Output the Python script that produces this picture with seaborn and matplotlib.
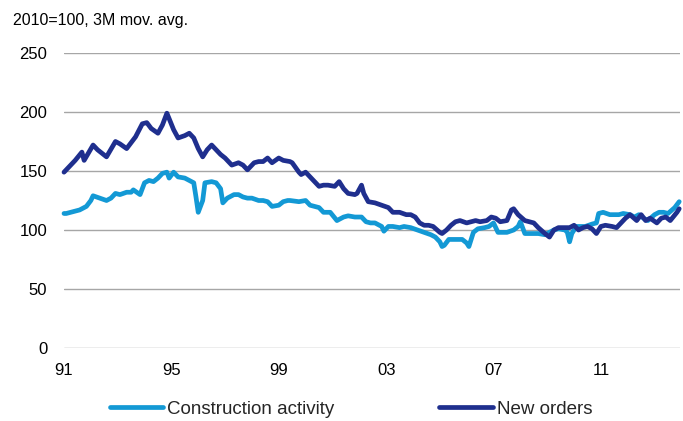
import matplotlib
matplotlib.use("Agg")
import matplotlib.pyplot as plt
from matplotlib.lines import Line2D
import numpy as np
import pandas as pd
import seaborn as sns

# Months since Jan 1991 and index levels (2010=100, 3M moving average)
activity_month = [0, 1, 3, 7, 10, 12, 13, 16, 19, 21, 23, 25, 28, 30, 31, 34, 36, 38, 40, 42,
                  44, 46, 47, 49, 51, 54, 56, 58, 59, 60, 62, 63, 66, 68, 70, 71, 73, 76, 78, 80,
                  82, 84, 87, 89, 91, 93, 96, 98, 100, 101, 105, 108, 110, 114, 116, 119, 122, 125, 127, 130,
                  133, 135, 137, 139, 142, 143, 145, 147, 150, 152, 155, 158, 161, 164, 166, 168, 169, 170, 172, 174,
                  176, 178, 180, 181, 182, 183, 185, 188, 190, 192, 194, 196, 198, 201, 203, 204, 206, 208, 210, 212,
                  215, 217, 219, 221, 224, 225, 226, 227, 229, 231, 233, 236, 238, 239, 241, 244, 246, 248, 250, 253,
                  255, 257, 259, 261, 264, 266, 268, 270, 273, 275]
activity_value = [114, 114, 115, 117, 120, 125, 129, 127, 125, 127, 131, 130, 132, 132, 134, 130, 140, 142, 141, 144,
                  148, 149, 144, 149, 145, 144, 142, 140, 128, 115, 125, 140, 141, 140, 135, 123, 127, 130, 130, 128,
                  127, 127, 125, 125, 124, 120, 121, 124, 125, 125, 124, 125, 121, 119, 115, 115, 108, 111, 112, 111,
                  111, 107, 106, 106, 103, 99, 103, 103, 102, 103, 102, 100, 98, 96, 94, 90, 86, 87, 92, 92,
                  92, 92, 89, 86, 92, 98, 101, 102, 103, 106, 98, 98, 98, 100, 103, 107, 97, 97, 97, 97,
                  96, 98, 100, 101, 100, 98, 90, 97, 103, 103, 103, 105, 106, 114, 115, 113, 113, 113, 114, 113,
                  111, 113, 110, 108, 113, 115, 115, 114, 119, 124]

orders_month = [0, 1, 3, 5, 8, 9, 13, 15, 19, 23, 25, 28, 32, 35, 37, 39, 42, 44, 46, 49,
                51, 54, 56, 58, 60, 62, 64, 66, 68, 70, 72, 75, 78, 80, 82, 85, 87, 89, 91, 93,
                96, 98, 101, 102, 105, 106, 108, 110, 114, 116, 118, 121, 123, 125, 127, 130, 131, 133, 134, 136,
                139, 142, 145, 147, 150, 153, 155, 157, 159, 161, 163, 165, 168, 169, 171, 173, 175, 177, 180, 182,
                184, 186, 189, 191, 193, 195, 198, 200, 201, 203, 206, 208, 210, 212, 215, 217, 219, 221, 224, 226,
                228, 230, 232, 234, 236, 238, 240, 242, 245, 247, 249, 251, 253, 256, 258, 260, 262, 265, 267, 269,
                271, 274, 275]
orders_value = [149, 151, 155, 159, 166, 159, 172, 168, 162, 175, 173, 169, 179, 190, 191, 186, 182, 189, 199, 185,
                178, 180, 182, 178, 169, 162, 168, 172, 168, 164, 161, 155, 157, 155, 151, 157, 158, 158, 161, 157,
                161, 159, 158, 157, 149, 147, 149, 145, 137, 138, 138, 137, 141, 135, 131, 130, 131, 138, 131, 124,
                123, 121, 119, 115, 115, 113, 113, 111, 106, 104, 104, 103, 98, 97, 100, 104, 107, 108, 106, 107,
                108, 107, 108, 111, 110, 107, 108, 117, 118, 113, 108, 107, 106, 102, 97, 94, 100, 102, 102, 102,
                104, 100, 102, 103, 101, 97, 103, 104, 103, 102, 106, 110, 113, 108, 113, 108, 110, 106, 110, 111,
                108, 115, 118]

tick_years = [1991, 1995, 1999, 2003, 2007, 2011]
tick_labels = ["91", "95", "99", "03", "07", "11"]
y_ticks = [0, 50, 100, 150, 200, 250]

LIGHT = "#1399d5"
DARK = "#1f2f8e"
LW = 3.4

sns.set_theme(style="white")
plt.rcParams["font.family"] = ["Liberation Sans", "DejaVu Sans"]

frames = []
for name, months, vals in [("Construction activity", activity_month, activity_value),
                           ("New orders", orders_month, orders_value)]:
    m = np.asarray(months, dtype=float)
    frames.append(pd.DataFrame({"year": 1991 + m / 12.0, "value": vals, "series": name}))
df = pd.concat(frames, ignore_index=True)

fig = plt.figure(figsize=(6.83, 4.21), dpi=100)
ax = fig.add_axes([64 / 683, 1 - 348 / 421, (680 - 64) / 683, (348 - 53) / 421])

sns.lineplot(data=df, x="year", y="value", hue="series",
             palette={"Construction activity": LIGHT, "New orders": DARK},
             linewidth=LW, ax=ax, legend=False, estimator=None, sort=True)
for ln in ax.get_lines():
    ln.set_clip_on(False)
    ln.set_solid_joinstyle("round")
    ln.set_solid_capstyle("round")

ax.set_xlim(1991, 1991 + 275 / 12.0 + 0.03)
ax.set_ylim(0, 250)
ax.set_yticks(y_ticks)
ax.set_xticks(tick_years)
ax.set_xticklabels(tick_labels)
ax.grid(axis="y", color="#a6a6a6", linewidth=1.0)
ax.grid(axis="x", visible=False)
ax.set_axisbelow(True)
for s in ax.spines.values():
    s.set_visible(False)
ax.tick_params(axis="y", length=0, pad=12, labelsize=12, colors="#000000")
ax.tick_params(axis="x", length=0, pad=11, labelsize=12, colors="#000000")
ax.set_xlabel("")
ax.set_ylabel("")

fig.text(13 / 683, 1 - 20 / 421, "2010=100, 3M mov. avg.", fontsize=11.5,
         va="center", ha="left", color="#000000")

handles = [Line2D([0], [0], color=LIGHT, lw=LW, solid_capstyle="round"),
           Line2D([0], [0], color=DARK, lw=LW, solid_capstyle="round")]
fig.legend(handles, ["Construction activity", "New orders"], loc="center",
           bbox_to_anchor=(351 / 683, 1 - 409 / 421), ncol=2, frameon=False,
           fontsize=13.5, handlelength=2.85, handletextpad=0.2, columnspacing=5.6,
           borderaxespad=0, borderpad=0)

fig.savefig("out.png", dpi=100)
